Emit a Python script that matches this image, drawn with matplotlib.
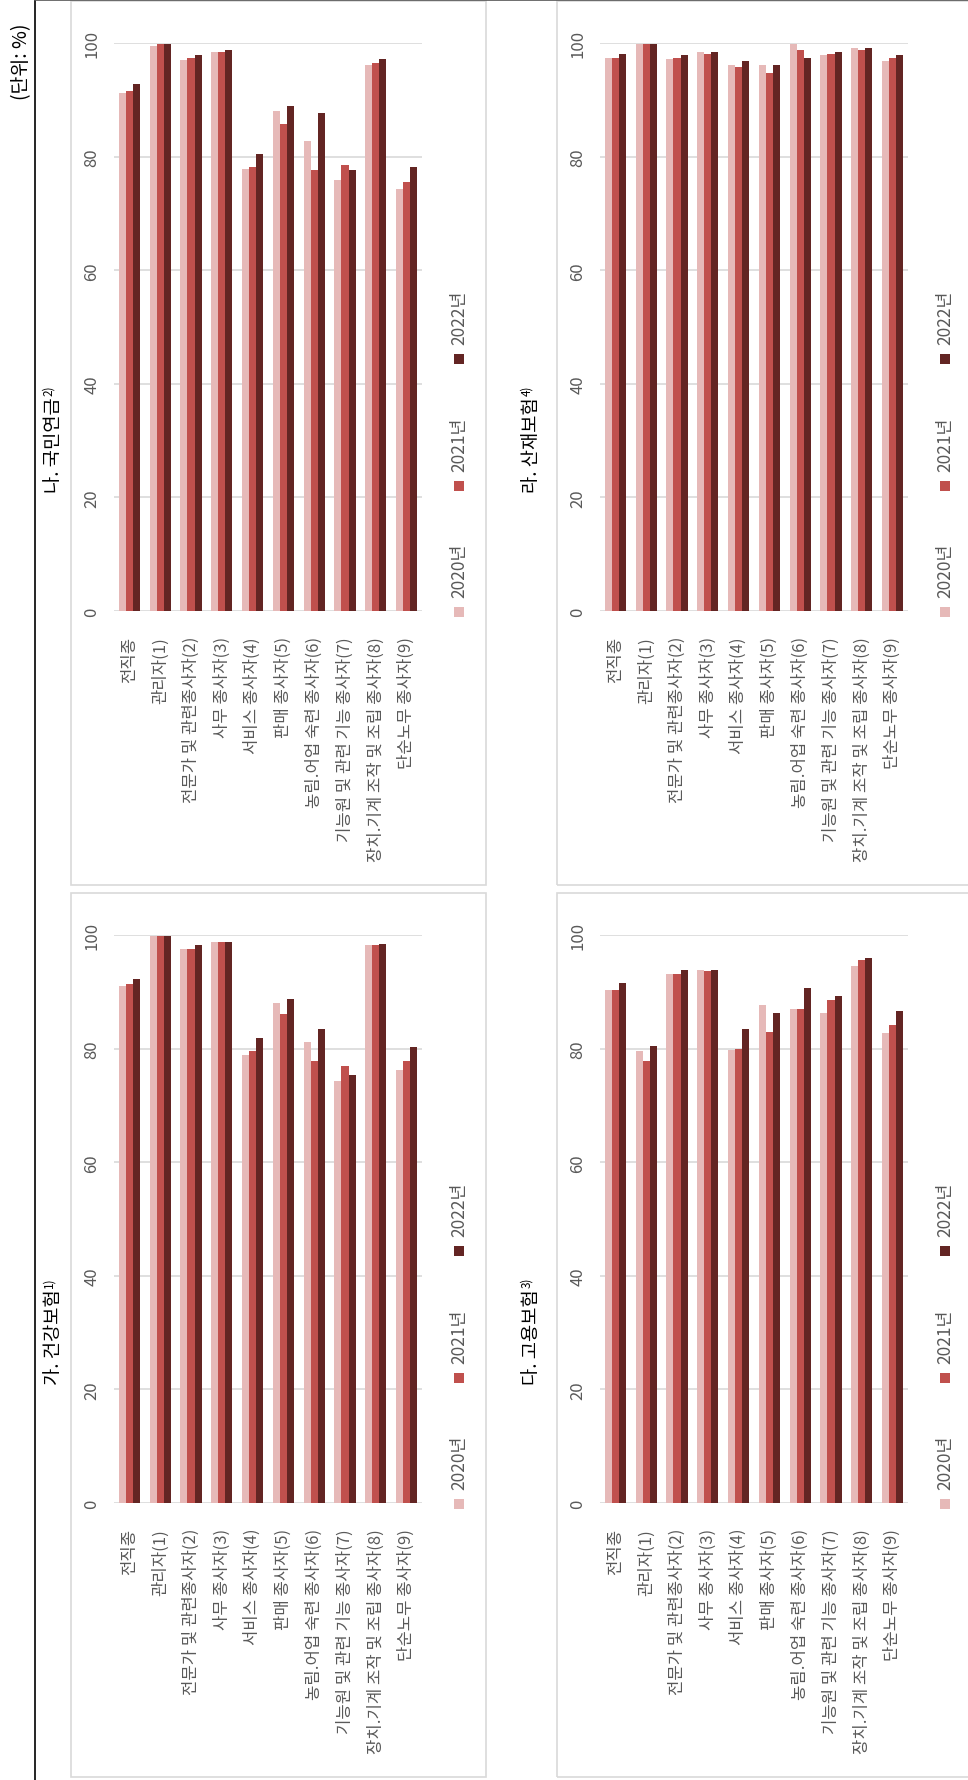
import numpy as np
import matplotlib
matplotlib.use('Agg')
import matplotlib.pyplot as plt
from matplotlib.patches import Rectangle
from matplotlib.lines import Line2D

plt.rcParams['font.family'] = ['Noto Sans CJK KR', 'DejaVu Sans']

# ---------------- data ----------------
categories = ['전직종', '관리자(1)', '전문가 및 관련종사자(2)', '사무 종사자(3)',
              '서비스 종사자(4)', '판매 종사자(5)', '농림.어업 숙련 종사자(6)',
              '기능원 및 관련 기능 종사자(7)', '장치.기계 조작 및 조립 종사자(8)',
              '단순노무 종사자(9)']
years = ['2020년', '2021년', '2022년']
colors = ['#E6B9B8', '#C0504D', '#632523']
yticks = [0, 20, 40, 60, 80, 100]

health_2020 = [91.0, 99.9, 97.6, 98.8, 78.9, 88.0, 81.2, 74.3, 98.2, 76.2]
health_2021 = [91.3, 99.9, 97.6, 98.8, 79.6, 86.1, 77.9, 76.9, 98.2, 77.9]
health_2022 = [92.3, 99.8, 98.2, 98.8, 81.9, 88.8, 83.5, 75.3, 98.5, 80.2]

pension_2020 = [91.2, 99.4, 97.0, 98.4, 77.9, 88.0, 82.8, 75.9, 96.1, 74.3]
pension_2021 = [91.6, 99.8, 97.4, 98.4, 78.2, 85.7, 77.6, 78.5, 96.5, 75.6]
pension_2022 = [92.8, 99.8, 97.8, 98.8, 80.5, 88.9, 87.6, 77.6, 97.1, 78.2]

employ_2020 = [90.3, 79.5, 93.2, 93.9, 79.8, 87.6, 87.0, 86.3, 94.5, 82.7]
employ_2021 = [90.3, 77.8, 93.2, 93.6, 80.0, 83.0, 87.0, 88.6, 95.6, 84.1]
employ_2022 = [91.6, 80.4, 93.9, 93.9, 83.4, 86.3, 90.6, 89.3, 95.9, 86.6]

accident_2020 = [97.4, 99.8, 97.1, 98.4, 96.1, 96.1, 99.8, 97.8, 99.1, 96.8]
accident_2021 = [97.4, 99.8, 97.4, 98.1, 95.8, 94.8, 98.8, 98.1, 98.8, 97.4]
accident_2022 = [98.1, 99.8, 97.8, 98.4, 96.8, 96.1, 97.4, 98.4, 99.1, 97.8]

titles = ['가. 건강보험', '나. 국민연금', '다. 고용보험', '라. 산재보험']
title_sups = ['1)', '2)', '3)', '4)']
unit_text = '(단위: %)'

# ---------------- layout helpers ----------------
W, H = 968, 1781
fig = plt.figure(figsize=(W / 100, H / 100), dpi=100)
fig.patch.set_facecolor('white')


def fx(x):
    return x / W


def fy(y):
    return 1 - y / H


GREY_TXT = '#595959'
GRID = '#D9D9D9'

title_items = []


def panel(L, T, data, title, sup, tx):
    ax = fig.add_axes([fx(L + 43), fy(T + 612), (351 - 43) / W, (612 - 44) / H])
    x = np.arange(len(categories))
    w = 0.23
    for i, (vals, c) in enumerate(zip(data, colors)):
        ax.bar(x + (i - 1) * w, vals, w, color=c, linewidth=0, zorder=3)
    ax.set_xlim(-0.5, len(categories) - 0.5)
    ax.set_ylim(0, 100)
    ax.set_yticks(yticks)
    ax.yaxis.grid(True, color=GRID, lw=1.2, zorder=0)
    ax.set_axisbelow(True)
    for s in ax.spines.values():
        s.set_visible(False)
    ax.set_xticks(x)
    ax.set_xticklabels(categories, rotation=90, ha='center', va='top',
                       fontsize=12, color=GREY_TXT)
    ax.tick_params(axis='x', length=0, pad=18)
    ax.tick_params(axis='y', length=0, pad=16, labelsize=12, labelcolor=GREY_TXT)
    for lab in ax.get_yticklabels():
        lab.set_rotation(90)
        lab.set_ha('center')
        lab.set_va('center')

    # legend (rotated, drawn by hand)
    marker_y = [T + 613, T + 487, T + 360]
    for yr, c, my in zip(years, colors, marker_y):
        fig.patches.append(Rectangle((fx(L + 383), fy(my + 5)), 10 / W, 10 / H,
                                     transform=fig.transFigure, facecolor=c,
                                     edgecolor='none'))
        fig.text(fx(L + 388), fy(my - 15), yr, rotation=90, ha='center',
                 va='bottom', fontsize=12.5, color=GREY_TXT)

    # panel frame
    fig.patches.append(Rectangle((fx(L), fy(T + 886)), 415 / W, 884 / H,
                                 transform=fig.transFigure, facecolor='none',
                                 edgecolor=GRID, lw=1.2))
    t = fig.text(fx(tx), fy(T + 445), title, rotation=90, ha='center',
                 va='center', fontsize=13.5, color='black')
    title_items.append((t, sup))


panel(71, 0, [pension_2020, pension_2021, pension_2022], titles[1], title_sups[1], 53)
panel(71, 892, [health_2020, health_2021, health_2022], titles[0], title_sups[0], 53)
panel(557, 0, [accident_2020, accident_2021, accident_2022], titles[3], title_sups[3], 531)
panel(557, 892, [employ_2020, employ_2021, employ_2022], titles[2], title_sups[2], 531)

# table lines
fig.lines.append(Line2D([fx(35), fx(35)], [0, 1], transform=fig.transFigure,
                        color='black', lw=1.2))
fig.lines.append(Line2D([fx(35), 1], [fy(1), fy(1)], transform=fig.transFigure,
                        color='#555555', lw=1.2))

fig.text(fx(22), fy(62), unit_text, rotation=90, ha='center', va='center',
         fontsize=14, color='black')

# superscripts for titles
fig.canvas.draw()
r = fig.canvas.get_renderer()
for t, sup in title_items:
    bb = t.get_window_extent(r)
    fig.text(bb.x0 / W, (bb.y1 + 1) / H, sup, rotation=90, ha='left',
             va='bottom', fontsize=8.5, color='black')

fig.savefig('out.png', dpi=100, facecolor='white')
